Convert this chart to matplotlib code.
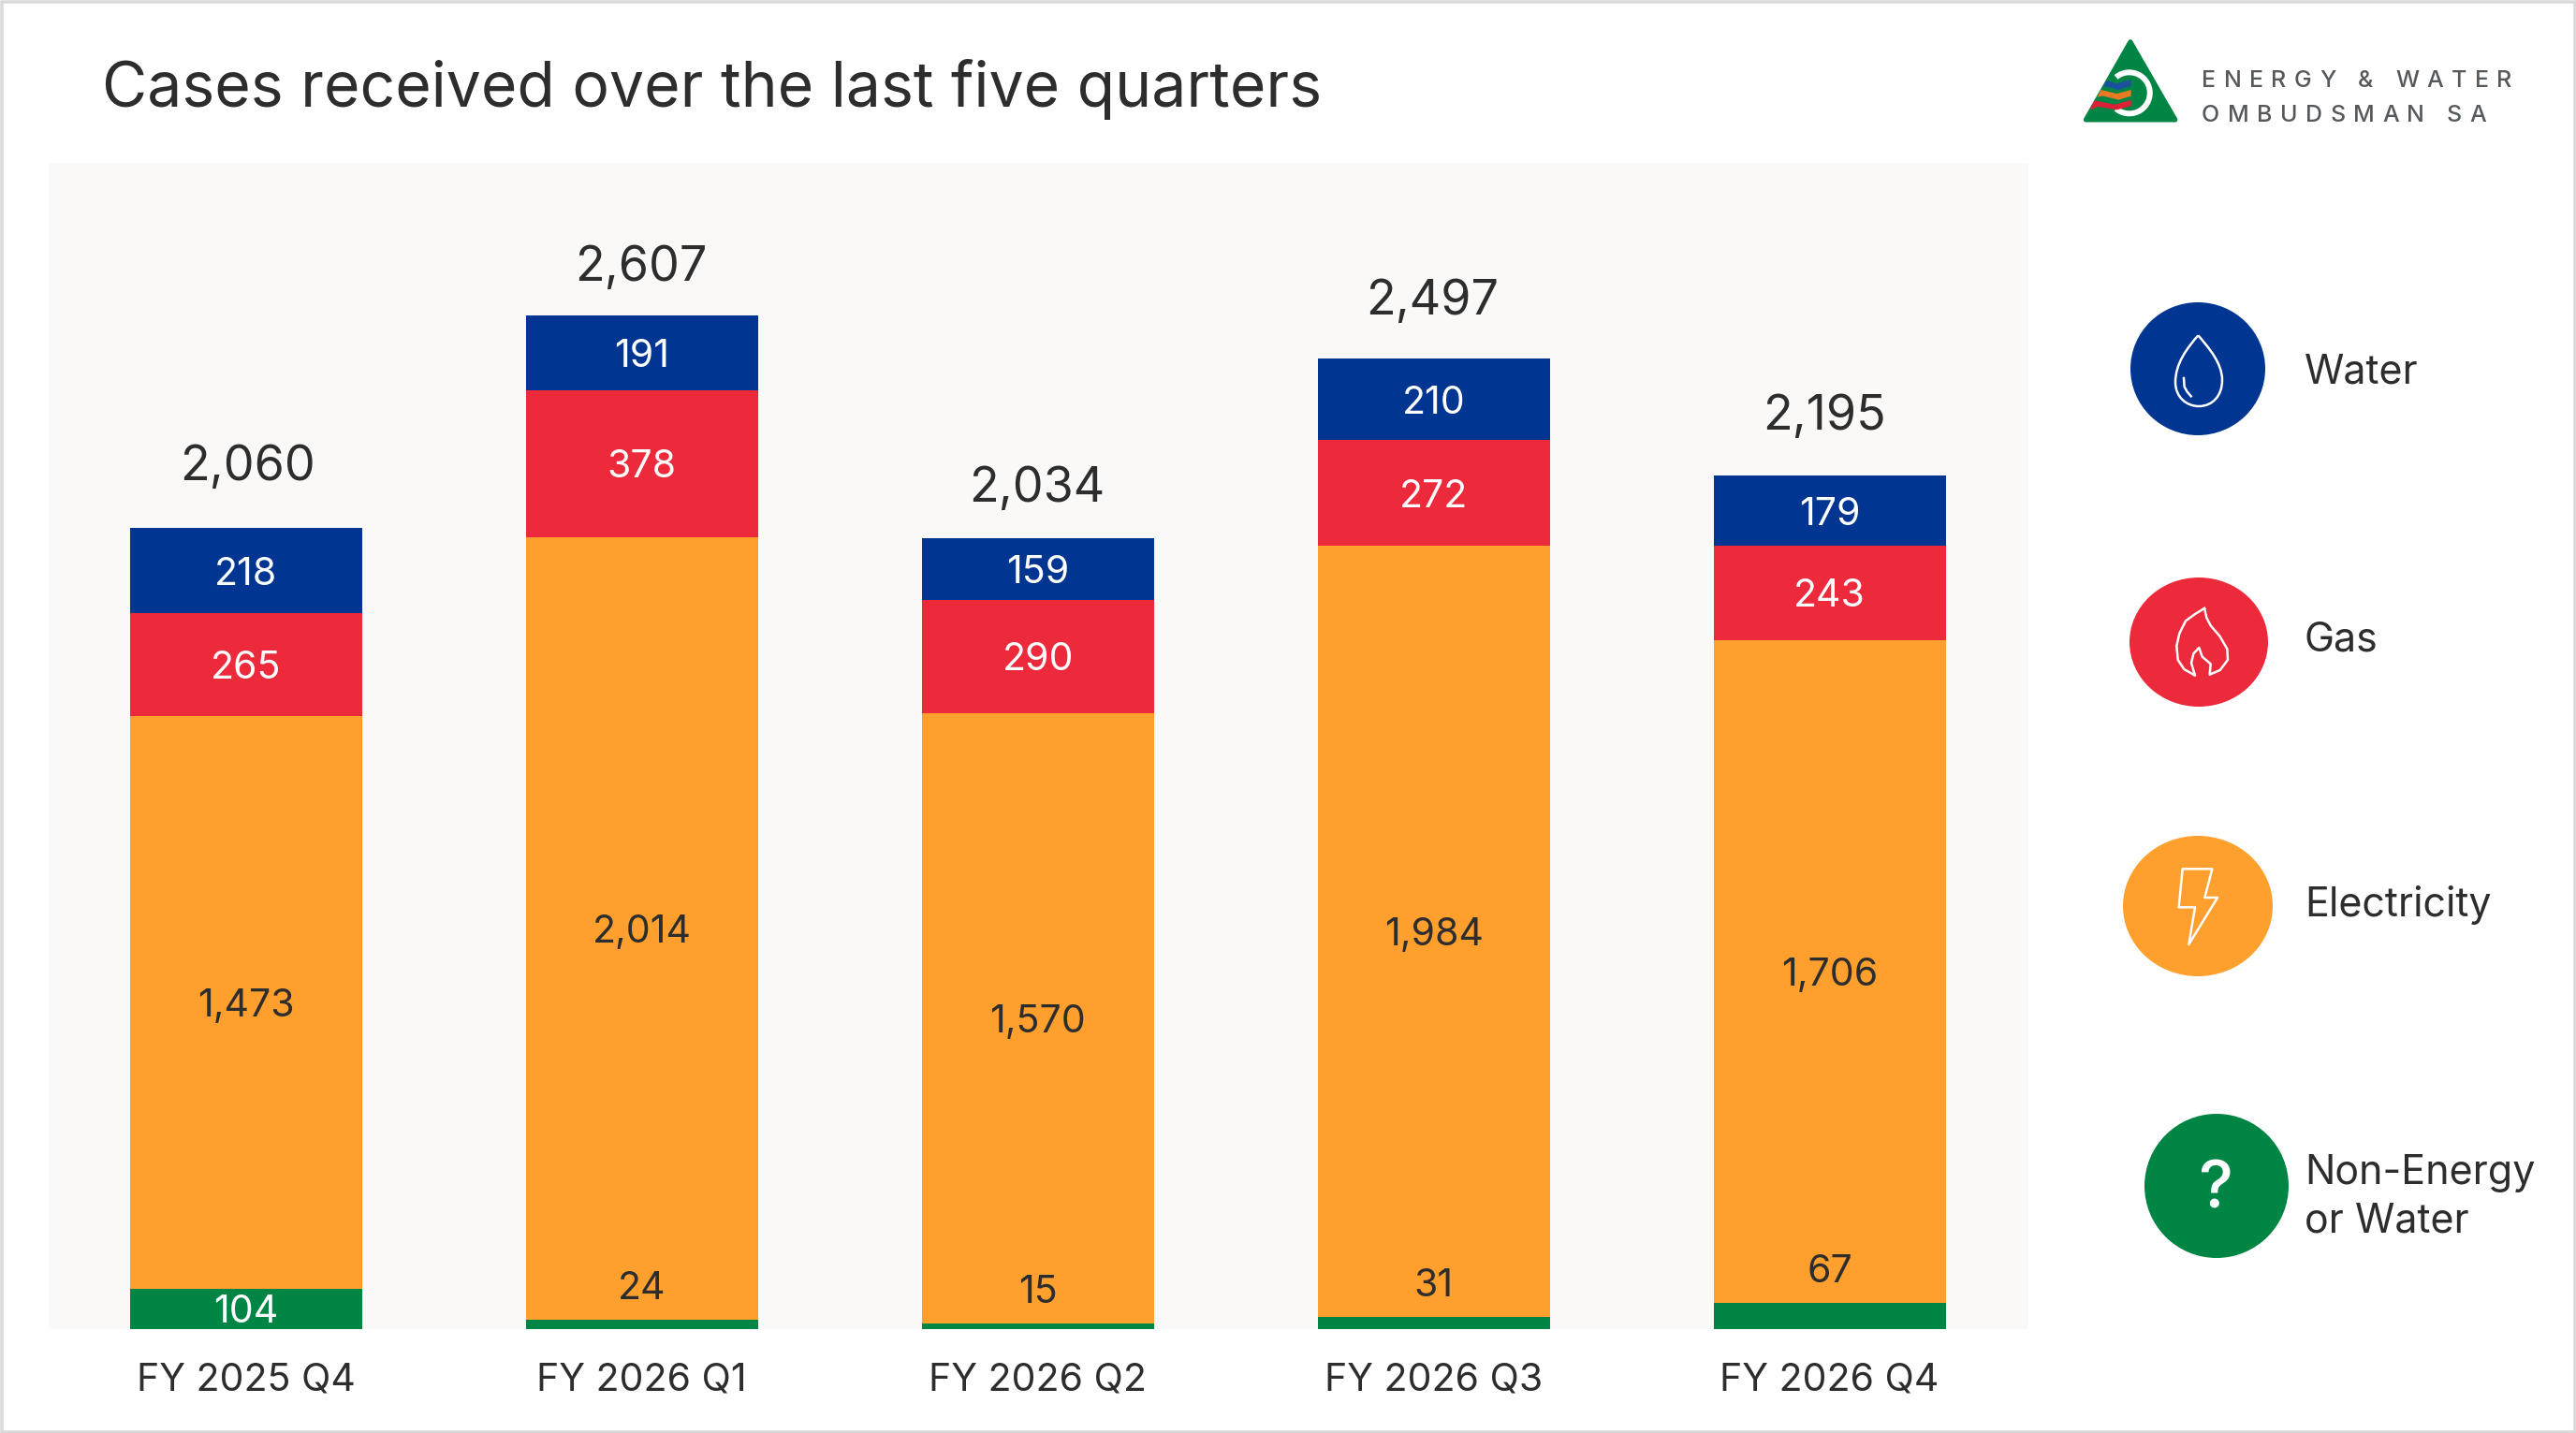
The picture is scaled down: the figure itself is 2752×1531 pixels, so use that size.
import matplotlib
matplotlib.use("Agg")
import matplotlib.pyplot as plt
from matplotlib.patches import Ellipse, Polygon, PathPatch, Rectangle, Arc
from matplotlib.path import Path
from matplotlib.text import Text
from matplotlib.transforms import IdentityTransform
import numpy as np

quarters = ["FY 2025 Q4", "FY 2026 Q1", "FY 2026 Q2", "FY 2026 Q3", "FY 2026 Q4"]
non_energy = [104, 24, 15, 31, 67]
electricity = [1473, 2014, 1570, 1984, 1706]
gas = [265, 378, 290, 272, 243]
water = [218, 191, 159, 210, 179]
totals = [2060, 2607, 2034, 2497, 2195]

NAVY = "#003591"
RED = "#ED2A3C"
ORANGE = "#FF9F2E"
GREEN = "#008544"
PANEL = "#FAF9F7"
INK = "#2D2D2D"
W, H = 2752, 1531
FONT = ["Inter", "DejaVu Sans"]

plt.rcParams["font.family"] = FONT


def pt(px):
    return px * 0.72


class TrackedText(Text):
    """Text drawn glyph by glyph with extra letter spacing."""

    def __init__(self, *args, tracking=0.0, **kwargs):
        super().__init__(*args, **kwargs)
        self.tracking = tracking

    def draw(self, renderer):
        px, py = self.get_transform().transform(self.get_position())
        for ch in self.get_text():
            glyph = Text(px, py, ch, fontproperties=self.get_fontproperties(), color=self.get_color(),
                         ha="left", va="baseline", transform=IdentityTransform())
            glyph.set_figure(self.get_figure())
            glyph.draw(renderer)
            adv = renderer.get_text_width_height_descent(ch, self.get_fontproperties(), False)[0]
            px += adv + self.tracking


fig = plt.figure(figsize=(W / 100, H / 100), dpi=100, facecolor="white")

# Stacked bars on a panel spanning the plot area
ax = fig.add_axes([52 / W, 1 - 1420 / H, (2167 - 52) / W, (1420 - 174) / H], facecolor=PANEL)
ax.set_xlim(-0.498, 4.502)
ax.set_ylim(0, 3000)
x = np.arange(len(quarters))
bar_w = 0.586
bottom = np.zeros(len(quarters))
series = [
    (non_energy, GREEN, "white"),
    (electricity, ORANGE, INK),
    (gas, RED, "white"),
    (water, NAVY, "white"),
]
for values, colour, label_colour in series:
    ax.bar(x, values, bar_w, bottom=bottom, color=colour, linewidth=0)
    for xi, v, b in zip(x, values, bottom):
        if v < 100:
            # Thin segments carry their label above the bar section
            ax.annotate(f"{v:,}", (xi, b + v), xytext=(0, pt(33)), textcoords="offset points",
                        ha="center", va="center", fontsize=pt(41), color=INK)
        else:
            ax.text(xi, b + v / 2, f"{v:,}", ha="center", va="center_baseline",
                    fontsize=pt(41), color=label_colour)
    bottom += np.array(values)

total_gap_px = [65, 51, 53, 60, 63]
total_shift_px = [2, -1, -1, -2, -6]
for xi, t, gap, shift in zip(x, totals, total_gap_px, total_shift_px):
    ax.annotate(f"{t:,}", (xi, t), xytext=(pt(shift), pt(gap)), textcoords="offset points",
                ha="center", va="center", fontsize=pt(52), color=INK)

ax.set_xticks(x, quarters, fontsize=pt(41), color=INK)
ax.set_yticks([])
ax.tick_params(axis="x", length=0, pad=pt(36))
for s in ax.spines.values():
    s.set_visible(False)

# Full-figure layer in pixel units for title, legend badges and logo
ov = fig.add_axes([0, 0, 1, 1], facecolor="none")
ov.set_xlim(0, W)
ov.set_ylim(H, 0)
ov.axis("off")

ov.add_patch(Rectangle((1.5, 1.5), W - 3, H - 3, fill=False, ec="#D9D9D9", lw=pt(3.5)))
ov.text(109, 95, "Cases received over the last five quarters", fontsize=pt(66),
        color=INK, ha="left", va="center")


def zoom_path(origin, sx, sy, pts):
    return [(origin[0] + a / sx, origin[1] + b / sy) for a, b in pts]


badges = [
    ((2348, 394), 72, 71, NAVY),
    ((2349, 686), 74, 69, RED),
    ((2348, 968), 80, 75, ORANGE),
    ((2368, 1267), 77, 77, GREEN),
]
for centre, rx, ry, colour in badges:
    ov.add_patch(Ellipse(centre, 2 * rx, 2 * ry, fc=colour, ec="none"))

# Water drop outline
o2 = (2230, 300)
drop_path = Path(
    zoom_path(o2, 3, 3, [(355, 175), (320, 215), (282, 265), (282, 325), (282, 375), (320, 402),
                         (357, 402), (400, 402), (432, 370), (432, 318), (432, 265), (390, 215), (355, 175)]),
    [Path.MOVETO] + [Path.CURVE4] * 12)
ov.add_patch(PathPatch(drop_path, fc="none", ec="white", lw=pt(2.5), joinstyle="round"))
ov.plot(*zip(*zoom_path(o2, 3, 3, [(309, 312), (311, 340), (320, 356), (332, 370)])), color="white", lw=pt(2.5))

# Gas flame outline
flame = zoom_path(o2, 3, 3, [(375, 1050), (345, 1068), (315, 1090), (295, 1130), (286, 1170), (290, 1215),
                             (310, 1245), (345, 1265), (333, 1225), (340, 1195), (358, 1176), (368, 1205),
                             (395, 1228), (392, 1262), (425, 1248), (450, 1215), (448, 1180), (425, 1140),
                             (395, 1105), (382, 1080), (375, 1050)])
ov.plot(*zip(*flame), color="white", lw=pt(2.5), solid_joinstyle="round")

# Electricity bolt outline
bolt = Polygon(zoom_path((2230, 860), 3, 3, [(305, 205), (400, 205), (376, 297), (417, 297), (325, 447),
                                             (345, 328), (293, 328)]),
               fc="none", ec="white", lw=pt(2.5), joinstyle="round")
ov.add_patch(bolt)
ov.text(2367, 1272, "?", fontsize=pt(70), color="white", ha="center", va="center", fontweight="medium")

legend_labels = [("Water", 398), ("Gas", 684), ("Electricity", 967), ("Non-Energy", 1253), ("or Water", 1305)]
for label, ly in legend_labels:
    ov.text(2462, ly, label, fontsize=pt(43), color=INK, ha="left", va="center")

# Logo: green triangle, white ring and three wavy bands
o1 = (2150, 0)
sx, sy = 2.605, 3
ov.add_patch(Polygon(zoom_path(o1, sx, sy, [(328, 134), (204, 384), (453, 384)]), fc=GREEN, ec=GREEN,
                     lw=pt(5), joinstyle="round"))
ring_c = zoom_path(o1, sx, sy, [(325, 298)])[0]
ov.add_patch(Arc(ring_c, 44, 44, theta1=-130, theta2=130, ec="white", lw=pt(6)))
bands = [
    ("#1B4FA0", [(253, 277), (262, 258), (290, 268), (330, 255), (330, 275), (295, 288), (262, 278)]),
    ("#E97A24", [(236, 312), (246, 288), (290, 300), (330, 288), (330, 308), (295, 320), (250, 307)]),
    ("#DC2035", [(214, 352), (228, 322), (285, 335), (330, 320), (330, 340), (290, 352), (240, 342)]),
]
for colour, pts in bands:
    ov.add_patch(Polygon(zoom_path(o1, sx, sy, pts), fc=colour, ec="none"))
for line, baseline in [("ENERGY & WATER", 93), ("OMBUDSMAN SA", 129.5)]:
    ov.add_artist(TrackedText(2352, baseline, line, tracking=8.5, fontsize=pt(25), color="#55595C",
                              fontweight="medium"))

fig.savefig("out.png", dpi=100, facecolor="white")
